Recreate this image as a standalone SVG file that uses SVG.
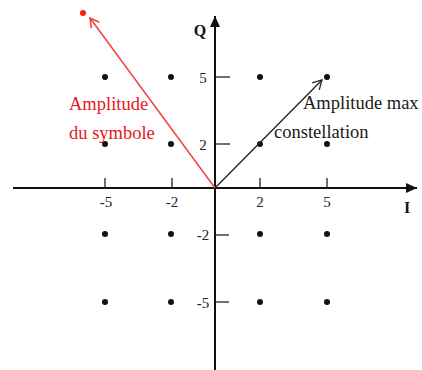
<svg xmlns="http://www.w3.org/2000/svg" width="422" height="370" viewBox="0 0 422 370">
<style>
.ax{stroke:#111;stroke-width:2;fill:none}
.tk{stroke:#222;stroke-width:1.3;fill:none}
.pt{fill:#111}
.lbl{font-family:"Liberation Serif",serif;font-size:15px;fill:#222;text-anchor:middle}
.axl{font-family:"Liberation Serif",serif;font-size:16px;font-weight:bold;fill:#111;text-anchor:middle}
.ann{font-family:"Liberation Serif",serif;font-size:18.5px}
</style>
<defs>
<marker id="ah" markerWidth="12" markerHeight="10" refX="11" refY="5" orient="auto" markerUnits="userSpaceOnUse">
<path d="M0,0 L11,5 L0,10 z" fill="#111"/>
</marker>
<marker id="openB" markerWidth="12" markerHeight="12" refX="10" refY="6" orient="auto" markerUnits="userSpaceOnUse">
<path d="M1,1 L10,6 L1,11" fill="none" stroke="#222" stroke-width="1.3"/>
</marker>
<marker id="openR" markerWidth="12" markerHeight="12" refX="10" refY="6" orient="auto" markerUnits="userSpaceOnUse">
<path d="M1,1 L10,6 L1,11" fill="none" stroke="#f04848" stroke-width="1.6"/>
</marker>
</defs>
<rect width="422" height="370" fill="#fff"/>
<g id="axes">
<line class="ax" x1="13" y1="188" x2="417" y2="188" marker-end="url(#ah)"/>
<line class="ax" x1="215" y1="370" x2="215" y2="16" marker-end="url(#ah)"/>
<text class="axl" x="200" y="36">Q</text>
<text class="axl" x="407" y="213">I</text>
</g>
<g id="ticks">
<line class="tk" x1="105" y1="178" x2="105" y2="188"/>
<line class="tk" x1="172" y1="178" x2="172" y2="188"/>
<line class="tk" x1="260" y1="178" x2="260" y2="188"/>
<line class="tk" x1="327" y1="178" x2="327" y2="188"/>
<line class="tk" x1="215" y1="77" x2="230" y2="77"/>
<line class="tk" x1="215" y1="144" x2="230" y2="144"/>
<line class="tk" x1="215" y1="235" x2="229" y2="235"/>
<line class="tk" x1="215" y1="302" x2="229" y2="302"/>
<text class="lbl" x="106" y="207">-5</text>
<text class="lbl" x="172" y="207">-2</text>
<text class="lbl" x="260" y="207">2</text>
<text class="lbl" x="327" y="207">5</text>
<text class="lbl" x="203" y="83">5</text>
<text class="lbl" x="203" y="150">2</text>
<text class="lbl" x="203" y="240">-2</text>
<text class="lbl" x="203" y="308">-5</text>
</g>
<g id="constellation">
<circle class="pt" cx="105" cy="77" r="3"/>
<circle class="pt" cx="171" cy="77" r="3"/>
<circle class="pt" cx="260" cy="77" r="3"/>
<circle class="pt" cx="327" cy="77" r="3"/>
<circle class="pt" cx="105" cy="144" r="3"/>
<circle class="pt" cx="171" cy="144" r="3"/>
<circle class="pt" cx="260" cy="144" r="3"/>
<circle class="pt" cx="327" cy="144" r="3"/>
<circle class="pt" cx="105" cy="234" r="3"/>
<circle class="pt" cx="171" cy="234" r="3"/>
<circle class="pt" cx="260" cy="234" r="3"/>
<circle class="pt" cx="327" cy="234" r="3"/>
<circle class="pt" cx="105" cy="302" r="3"/>
<circle class="pt" cx="171" cy="302" r="3"/>
<circle class="pt" cx="260" cy="302" r="3"/>
<circle class="pt" cx="327" cy="302" r="3"/>
</g>
<g id="symbol">
<circle cx="83" cy="13" r="3" fill="#ff1a1a"/>
</g>
<g id="connectors">
<line x1="215" y1="188" x2="90" y2="18" stroke="#f04848" stroke-width="1.6" marker-end="url(#openR)"/>
<line x1="215" y1="188" x2="322" y2="80" stroke="#222" stroke-width="1.3" marker-end="url(#openB)"/>
</g>
<g id="labels">
<text class="ann" x="69" y="110" fill="#e8161e">Amplitude</text>
<text class="ann" x="69" y="139" fill="#e8161e">du symbole</text>
<text class="ann" x="303" y="109" fill="#1a1a1a">Amplitude max</text>
<text class="ann" x="274" y="138" fill="#1a1a1a">constellation</text>
</g>
</svg>
